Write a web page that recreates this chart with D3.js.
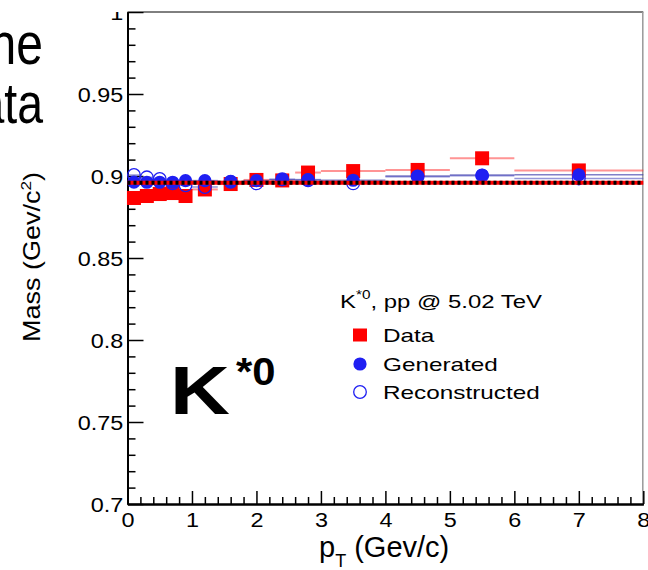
<!DOCTYPE html>
<html>
<head>
<meta charset="utf-8">
<script src="https://cdn.jsdelivr.net/npm/d3@7"></script>
<style>
  html, body { margin: 0; padding: 0; background: #fff; }
  svg { display: block; }
  text { font-family: "Liberation Sans", Arial, Helvetica, sans-serif; fill: #000; }
</style>
</head>
<body>
<svg id="chart" width="648" height="570"></svg>
<script>
// K*0 mass vs pT, pp @ 5.02 TeV
const ptCenter = [0.1, 0.3, 0.5, 0.7, 0.9, 1.2, 1.6, 2.0, 2.4, 2.8, 3.5, 4.5, 5.5, 7.0];
const ptLow    = [0.0, 0.2, 0.4, 0.6, 0.8, 1.0, 1.4, 1.8, 2.2, 2.6, 3.0, 4.0, 5.0, 6.0];
const ptHigh   = [0.2, 0.4, 0.6, 0.8, 1.0, 1.4, 1.8, 2.2, 2.6, 3.0, 4.0, 5.0, 6.0, 8.0];
const massData = [0.8866, 0.8878, 0.8890, 0.8896, 0.8878, 0.8918, 0.8951, 0.8976, 0.8973, 0.9021, 0.9030, 0.9037, 0.9108, 0.9034];
const massGen  = [0.8963, 0.8962, 0.8962, 0.8962, 0.8972, 0.8972, 0.8966, 0.8972, 0.8978, 0.8978, 0.8974, 0.9000, 0.9006, 0.9007];
const massRec  = [0.9006, 0.8992, 0.8982, 0.8955, 0.8943, 0.8933, 0.8965, 0.8955, 0.8980, 0.8974, 0.8955, 0.8996, 0.9002, 0.8985];
const pdgMass = 0.89594;

const xMajorTicks = [0, 1, 2, 3, 4, 5, 6, 7, 8];
const yMajorTicks = [0.7, 0.75, 0.8, 0.85, 0.9, 0.95, 1.0];
const legendLabels = ["Data", "Generated", "Reconstructed"];

const RED = "#ff0000";
const BLUE = "#1f1ff2";
const FONT = "'Liberation Sans', Arial, Helvetica, sans-serif";

const svg = d3.select("#chart");
svg.append("rect").attr("width", 648).attr("height", 570).attr("fill", "#fff");

const x = d3.scaleLinear().domain([0, 8]).range([127.5, 643.3]);
const y = d3.scaleLinear().domain([0.7, 1.0]).range([504, 12]);

const defs = svg.append("defs");
defs.append("clipPath").attr("id", "yclip")
  .append("rect").attr("x", -200).attr("y", 12).attr("width", 400).attr("height", 600);

// slide text running off the left edge
svg.append("text").attr("text-anchor", "end")
  .attr("transform", "translate(43,64) scale(0.8,1)")
  .style("font-size", "60px").text("the");
svg.append("text").attr("text-anchor", "end")
  .attr("transform", "translate(43,123) scale(0.8,1)")
  .style("font-size", "58px").text("data");

// frame top and right
svg.append("line").attr("x1", x(0)).attr("x2", x(8)).attr("y1", y(1)).attr("y2", y(1))
  .attr("stroke", "#000").attr("stroke-width", 1);
svg.append("line").attr("x1", x(8) - 0.5).attr("x2", x(8) - 0.5).attr("y1", y(1)).attr("y2", y(0.7))
  .attr("stroke", "#999").attr("stroke-width", 1.5);

// y axis: minor ticks, then major ticks with labels
const yMinor = d3.range(70, 101).map(v => v / 100).filter(v => !yMajorTicks.some(t => Math.abs(t - v) < 1e-9));
const gyMinor = svg.append("g").attr("transform", `translate(${x(0)},0)`);
gyMinor.call(d3.axisLeft(y).tickValues(yMinor).tickSize(-8).tickSizeOuter(0).tickFormat(""));
const gy = svg.append("g").attr("transform", `translate(${x(0)},0)`).attr("clip-path", "url(#yclip)");
gy.call(d3.axisLeft(y).tickValues(yMajorTicks).tickSize(-16).tickSizeOuter(0).tickPadding(4)
  .tickFormat(d => d3.format(".2~f")(d)));
[gyMinor, gy].forEach(g => {
  g.selectAll(".tick line").attr("stroke", "#000").attr("stroke-width", 1.5);
  g.selectAll(".domain").attr("stroke", "#000").attr("stroke-width", 2);
});
gy.selectAll(".tick text")
  .attr("x", -3.6).attr("dy", "0.36em")
  .attr("transform", "scale(1.2,1)")
  .style("font-size", "19.5px")
  .style("font-family", FONT);

// x axis: minor ticks, then major ticks with labels
const xMinor = d3.range(0, 41).map(v => v / 5).filter(v => Math.abs(v - Math.round(v)) > 1e-9);
const gxMinor = svg.append("g").attr("transform", `translate(0,${y(0.7)})`);
gxMinor.call(d3.axisBottom(x).tickValues(xMinor).tickSize(-7).tickSizeOuter(0).tickFormat(""));
const gx = svg.append("g").attr("transform", `translate(0,${y(0.7)})`);
gx.call(d3.axisBottom(x).tickValues(xMajorTicks).tickSize(-13).tickSizeOuter(0).tickPadding(9)
  .tickFormat(d3.format("d")));
[gxMinor, gx].forEach(g => {
  g.selectAll(".tick line").attr("stroke", "#000").attr("stroke-width", 1.5);
  g.selectAll(".domain").attr("stroke", "#000").attr("stroke-width", 2);
});
gx.selectAll(".tick text")
  .attr("transform", "scale(1.2,1)")
  .style("font-size", "19.5px")
  .style("font-family", FONT);

// axis titles
const xt = svg.append("text").attr("x", 319).attr("y", 557).style("font-size", "29px");
xt.append("tspan").text("p");
xt.append("tspan").attr("dy", 10).style("font-size", "18px").text("T");
xt.append("tspan").attr("dy", -10).text(" (Gev/c)");

const yt = svg.append("text").attr("text-anchor", "middle")
  .attr("transform", "translate(39.5,257) rotate(-90) scale(1.02,0.9)")
  .style("font-size", "26.5px");
yt.append("tspan").text("Mass (Gev/c");
yt.append("tspan").attr("dy", -10).style("font-size", "17px").text("2");
yt.append("tspan").attr("dy", 10).text(")");

// horizontal bin-width bars
const plot = svg.append("g");
const idx = d3.range(ptCenter.length);
plot.selectAll(".exData").data(idx).join("line")
  .attr("x1", i => x(ptLow[i])).attr("x2", i => x(ptHigh[i]))
  .attr("y1", i => y(massData[i])).attr("y2", i => y(massData[i]))
  .attr("stroke", "rgba(255,60,60,0.55)").attr("stroke-width", 2);
plot.selectAll(".exGen").data(idx).join("line")
  .attr("x1", i => x(ptLow[i])).attr("x2", i => x(ptHigh[i]))
  .attr("y1", i => y(massGen[i])).attr("y2", i => y(massGen[i]))
  .attr("stroke", "rgba(60,60,170,0.65)").attr("stroke-width", 1.5);
plot.selectAll(".exRec").data(idx).join("line")
  .attr("x1", i => x(ptLow[i])).attr("x2", i => x(ptHigh[i]))
  .attr("y1", i => y(massRec[i])).attr("y2", i => y(massRec[i]))
  .attr("stroke", "rgba(80,80,190,0.6)").attr("stroke-width", 1.5);

// markers
const sq = 14;
plot.selectAll(".data").data(idx).join("rect")
  .attr("x", i => x(ptCenter[i]) - sq / 2).attr("y", i => y(massData[i]) - sq / 2)
  .attr("width", sq).attr("height", sq).attr("fill", RED);
plot.selectAll(".gen").data(idx).join("circle")
  .attr("cx", i => x(ptCenter[i])).attr("cy", i => y(massGen[i])).attr("r", 6.6)
  .attr("fill", BLUE);
plot.selectAll(".rec").data(idx).join("circle")
  .attr("cx", i => x(ptCenter[i])).attr("cy", i => y(massRec[i])).attr("r", 6.3)
  .attr("fill", "none").attr("stroke", BLUE).attr("stroke-width", 1.3);

// PDG mass line
plot.append("line").attr("x1", x(0)).attr("x2", x(8)).attr("y1", y(pdgMass)).attr("y2", y(pdgMass))
  .attr("stroke", RED).attr("stroke-width", 4);
plot.append("line").attr("x1", x(0)).attr("x2", x(8)).attr("y1", y(pdgMass)).attr("y2", y(pdgMass))
  .attr("stroke", "#000").attr("stroke-width", 4).attr("stroke-dasharray", "3,3");

// big particle label
svg.append("text").attr("transform", "translate(170,414) scale(1.22,1)")
  .style("font-size", "68px").style("font-weight", "bold").text("K");
svg.append("text").attr("transform", "translate(236,385) scale(1.1,1)")
  .style("font-size", "38px").style("font-weight", "bold").text("*0");

// legend
const lh = svg.append("text").attr("transform", "translate(340,308) scale(1.28,1)").style("font-size", "18.7px");
lh.append("tspan").text("K");
lh.append("tspan").attr("dy", -9).style("font-size", "12px").text("*0");
lh.append("tspan").attr("dy", 9).text(", pp @ 5.02 TeV");

const legY = [335, 364, 392];
svg.append("rect").attr("x", 353).attr("y", legY[0] - 6.5).attr("width", 14).attr("height", 13).attr("fill", RED);
svg.append("circle").attr("cx", 360).attr("cy", legY[1]).attr("r", 6.6).attr("fill", BLUE);
svg.append("circle").attr("cx", 360).attr("cy", legY[2]).attr("r", 6.3).attr("fill", "none")
  .attr("stroke", BLUE).attr("stroke-width", 1.3);
legendLabels.forEach((t, i) => {
  svg.append("text").attr("transform", `translate(383,${legY[i] + 7}) scale(1.28,1)`)
    .style("font-size", "19px").text(t);
});
</script>
</body>
</html>
